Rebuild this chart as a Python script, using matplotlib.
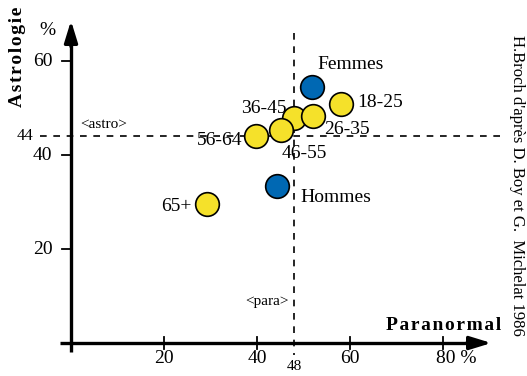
import numpy as np
import matplotlib.pyplot as plt

# donnees (% paranormal, % astrologie)
ages = ["36-45", "26-35", "18-25", "56-64", "46-55", "65+"]
age_para = [48.0, 52.1, 58.1, 39.8, 45.2, 29.2]
age_astro = [47.8, 48.4, 50.8, 44.0, 45.3, 29.5]
age_off = [(-8, 10, 'right'), (11, -14, 'left'), (16, 2, 'left'),
           (-14, -4, 'right'), (0, -23, 'left'), (-15, -2, 'right')]

sexes = ["Femmes", "Hommes"]
sexe_para = [51.8, 44.4]
sexe_astro = [54.5, 33.4]
sexe_off = [(6, 22, 'left'), (23, -11, 'left')]

moy_para = 48
moy_astro = 44
xticks = [20, 40, 60]
yticks = [20, 40, 60]

plt.rcParams['font.family'] = ['Liberation Serif', 'DejaVu Serif']
jaune = '#f5e12a'
bleu = '#0068b3'
esp = '\u200a'

fig = plt.figure(figsize=(5.27, 3.76), dpi=100)
ax = fig.add_axes([0, 0, 1, 1])
ax.set_xlim(-15.27, 98.06)
ax.set_ylim(-7.02, 73.0)
ax.axis('off')

# axes avec fleches
ax.plot([-2.4, 86], [0, 0], color='black', lw=2.4, solid_capstyle='butt')
ax.plot([0, 0], [-2, 64], color='black', lw=2.4, solid_capstyle='butt')
ax.annotate('', xy=(91, 0), xytext=(84.5, 0),
            arrowprops=dict(arrowstyle='-|>,head_length=1.3,head_width=0.4', color='black', lw=2.4))
ax.annotate('', xy=(0, 69.2), xytext=(0, 62.5),
            arrowprops=dict(arrowstyle='-|>,head_length=1.3,head_width=0.4', color='black', lw=2.4))

# graduations
for t in xticks + [80]:
    ax.plot([t, t], [-1.2, 1.2], color='black', lw=1.3)
for t in xticks:
    ax.text(t, -3.3, str(t), ha='center', va='center', fontsize=14)
ax.text(78.5, -3.3, '80 %', ha='left', va='center', fontsize=14)
for t in yticks:
    ax.plot([-1.9, 0], [t, t], color='black', lw=1.3)
    ax.text(-4, t, str(t), ha='right', va='center', fontsize=14)
ax.text(-5, 66.5, '%', ha='center', va='center', fontsize=14)
ax.text(-10, moy_astro, str(moy_astro), ha='center', va='center', fontsize=12)
ax.text(moy_para, -5.0, str(moy_para), ha='center', va='center', fontsize=11)

# moyennes
ax.plot([-6.6, 93.3], [moy_astro, moy_astro], color='black', lw=1.2, ls=(0, (4, 4)), zorder=1)
ax.plot([moy_para, moy_para], [66, -2.5], color='black', lw=1.2, ls=(0, (4, 4)), zorder=1)
ax.text(2, moy_astro + 2.6, '<astro>', ha='left', va='center', fontsize=11)
ax.text(46.8, 8.8, '<para>', ha='right', va='center', fontsize=11)

# titres des axes
ax.text(92.5, 3.7, esp.join('Paranormal'), ha='right', va='center', fontsize=14, fontweight='bold')
ax.text(-11.6, 60.9, esp.join('Astrologie'), ha='center', va='center', fontsize=14,
        fontweight='bold', rotation=90)
ax.text(96, 33.5, "H.Broch d'après D. Boy et G.  Michelat 1986", ha='center', va='center',
        fontsize=12, rotation=-90)

# points
for i in range(len(ages)):
    ax.scatter(age_para[i], age_astro[i], s=290, color=jaune, edgecolor='black', lw=1.2, zorder=3 + i)
    dx, dy, ha = age_off[i]
    ax.annotate(ages[i], (age_para[i], age_astro[i]), xytext=(dx, dy), textcoords='offset pixels',
                ha=ha, va='center', fontsize=14, zorder=2)
for i in range(len(sexes)):
    ax.scatter(sexe_para[i], sexe_astro[i], s=290, color=bleu, edgecolor='black', lw=1.2, zorder=3)
    dx, dy, ha = sexe_off[i]
    ax.annotate(sexes[i], (sexe_para[i], sexe_astro[i]), xytext=(dx, dy), textcoords='offset pixels',
                ha=ha, va='center', fontsize=14, zorder=2)

plt.savefig('out.png', dpi=100)
